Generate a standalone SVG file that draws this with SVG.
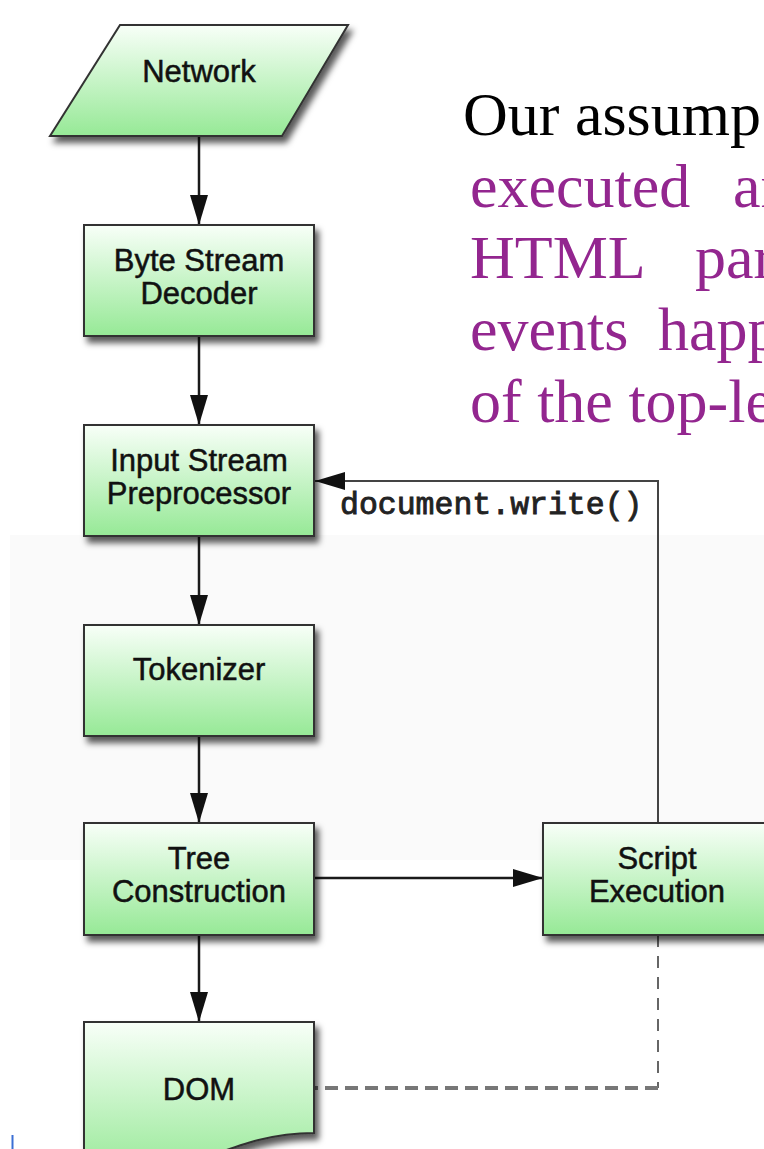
<svg xmlns="http://www.w3.org/2000/svg" width="764" height="1149" viewBox="0 0 764 1149">
<defs>
<linearGradient id="g" x1="0" y1="0" x2="0" y2="1">
<stop offset="0" stop-color="#f8fff8"/>
<stop offset="1" stop-color="#96e996"/>
</linearGradient>
<filter id="sh" x="-10%" y="-10%" width="130%" height="140%">
<feDropShadow dx="4" dy="6" stdDeviation="3" flood-color="#000" flood-opacity="0.65"/>
</filter>
<marker id="ah" markerUnits="userSpaceOnUse" markerWidth="30" markerHeight="18" refX="30" refY="9" orient="auto">
<path d="M0,0 L30,9 L0,18 Z" fill="#111"/>
</marker>
</defs>
<style>
.box{fill:url(#g);stroke:#333;stroke-width:2;filter:url(#sh)}
.lbl{font-family:"Liberation Sans",Arial,Helvetica,sans-serif;font-size:31px;fill:#111;stroke:#111;stroke-width:0.5;text-anchor:middle}
.conn{fill:none;stroke:#1a1a1a;stroke-width:2.5}
.fb{fill:none;stroke:#444;stroke-width:2}
.code{font-family:"Liberation Mono","Courier New",monospace;font-size:31.5px;fill:#222;stroke:#222;stroke-width:0.9}
.serif{font-family:"Liberation Serif","Times New Roman",serif;font-size:62px}
.pur{fill:#93268f}
</style>
<rect x="10" y="535" width="754" height="325" fill="#fafafa"/>
<line x1="12.5" y1="1135" x2="12.5" y2="1149" stroke="#3b6fd4" stroke-width="2"/>
<g id="connectors">
<line class="conn" x1="199" y1="136" x2="199" y2="225" marker-end="url(#ah)"/>
<line class="conn" x1="199" y1="336" x2="199" y2="425" marker-end="url(#ah)"/>
<line class="conn" x1="199" y1="536" x2="199" y2="625" marker-end="url(#ah)"/>
<line class="conn" x1="199" y1="736" x2="199" y2="823" marker-end="url(#ah)"/>
<line class="conn" x1="199" y1="935" x2="199" y2="1022" marker-end="url(#ah)"/>
<line class="conn" x1="314" y1="878" x2="543" y2="878" marker-end="url(#ah)"/>
<path class="fb" d="M658,823 V481 H315" marker-end="url(#ah)"/>
<text class="code" x="340" y="514">document.write()</text>
<path d="M658,935 V1088" fill="none" stroke="#666" stroke-width="2" stroke-dasharray="12 9"/>
<path d="M658,1088 H314" fill="none" stroke="#777" stroke-width="4" stroke-dasharray="13 7"/>
</g>
<g id="network">
<polygon class="box" points="120,25 348,25 282,136 50,136"/>
<text class="lbl" x="199" y="82">Network</text>
</g>
<g id="byte-stream-decoder">
<rect class="box" x="84" y="225" width="230" height="111"/>
<text class="lbl" x="199" y="271">Byte Stream</text>
<text class="lbl" x="199" y="304">Decoder</text>
</g>
<g id="input-stream-preprocessor">
<rect class="box" x="84" y="425" width="230" height="111"/>
<text class="lbl" x="199" y="471">Input Stream</text>
<text class="lbl" x="199" y="504">Preprocessor</text>
</g>
<g id="tokenizer">
<rect class="box" x="84" y="625" width="230" height="111"/>
<text class="lbl" x="199" y="680">Tokenizer</text>
</g>
<g id="tree-construction">
<rect class="box" x="84" y="823" width="230" height="112"/>
<text class="lbl" x="199" y="869">Tree</text>
<text class="lbl" x="199" y="902">Construction</text>
</g>
<g id="script-execution">
<rect class="box" x="543" y="823" width="232" height="112"/>
<text class="lbl" x="657" y="869">Script</text>
<text class="lbl" x="657" y="902">Execution</text>
</g>
<g id="dom">
<path class="box" d="M84,1022 H314 V1133 C270,1133 240,1145 199,1160 C160,1175 120,1180 84,1175 Z"/>
<text class="lbl" x="199" y="1100">DOM</text>
</g>
<g id="body-text" class="serif">
<text x="463" y="135" fill="#000">Our assump</text>
<text class="pur" x="470" y="207">executed</text>
<text class="pur" x="733" y="207">an</text>
<text class="pur" x="470" y="278">HTML</text>
<text class="pur" x="695" y="278">par</text>
<text class="pur" x="470" y="350">events</text>
<text class="pur" x="658" y="350">happ</text>
<text class="pur" x="470" y="422">of the top-le</text>
</g>
</svg>
